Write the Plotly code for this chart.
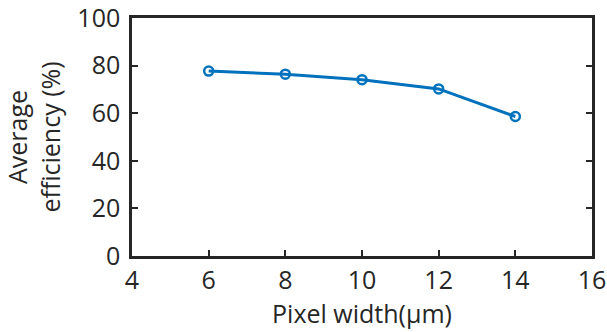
import plotly.graph_objects as go

# Average efficiency versus pixel width
pixel_width = [6, 8, 10, 12, 14]
avg_efficiency = [77.7, 76.4, 74.1, 70.2, 58.6]

x_ticks = [4, 6, 8, 10, 12, 14, 16]
y_ticks = [0, 20, 40, 60, 80, 100]

ink = "#262626"
blue = "#0072BD"
font = dict(family="Open Sans", size=25, color=ink)

fig = go.Figure(
    go.Scatter(
        x=pixel_width,
        y=avg_efficiency,
        mode="lines+markers",
        line=dict(color=blue, width=3),
        marker=dict(symbol="circle-open", size=9, color=blue, line=dict(width=2.5, color=blue)),
    )
)

axis_common = dict(
    showgrid=False,
    zeroline=False,
    showline=True,
    linecolor=ink,
    linewidth=2.5,
    ticks="inside",
    ticklen=6,
    tickwidth=2,
    tickcolor=ink,
    tickfont=font,
    automargin=False,
    ticklabeloverflow="allow",
)

fig.update_xaxes(
    range=[4, 16],
    tickvals=x_ticks,
    mirror=True,
    ticklabelstandoff=0,
    title=dict(text="Pixel width(μm)", font=font, standoff=2),
    **axis_common,
)
fig.update_yaxes(
    range=[0, 100],
    tickvals=y_ticks,
    mirror="ticks",
    ticklabelstandoff=4,
    title=dict(text="Average<br>efficiency (%)", font=font, standoff=12),
    **axis_common,
)

fig.update_layout(
    width=607,
    height=332,
    margin=dict(l=132, r=15, t=18, b=76),
    paper_bgcolor="white",
    plot_bgcolor="white",
    showlegend=False,
    font=font,
)

fig.write_html("out.html")
